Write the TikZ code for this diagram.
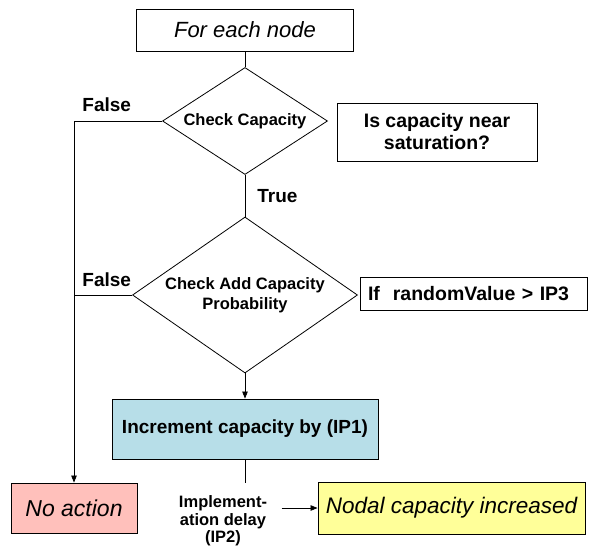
\documentclass[tikz,border=0pt]{standalone}
\usepackage{fontspec}
\setmainfont{Liberation Sans}
\usetikzlibrary{shapes.geometric,arrows.meta}
\definecolor{tealfill}{HTML}{B7DEE8}
\definecolor{pinkfill}{HTML}{FFC0BB}
\definecolor{yellowfill}{HTML}{FFFF99}
\begin{document}
\begin{tikzpicture}[x=1pt,y=-1pt, line width=0.8pt,
  box/.style={draw, line width=0.9pt, inner sep=0pt, align=center},
  dec/.style={draw, diamond, inner sep=0pt, align=center, font=\fontsize{16.5}{20}\selectfont\bfseries},
  lbl/.style={font=\fontsize{19}{22}\selectfont\bfseries, inner sep=0pt},
  arr/.style={-{Triangle[length=7pt,width=5.5pt]}},
]
\useasboundingbox (0,0) rectangle (590,547);

\node[box, minimum width=217pt, minimum height=42pt, font=\fontsize{22}{26}\selectfont\itshape] (start) at (245,30) {For each node};
\node[dec, shape aspect=1.54, minimum width=165pt, minimum height=107pt] (d1) at (245,121) {Check Capacity};
\node[box, minimum width=200pt, minimum height=58pt, font=\fontsize{19.5}{22}\selectfont\bfseries] (sat) at (437,132) {Is capacity near\\saturation?};
\node[dec, shape aspect=1.44, minimum width=225pt, minimum height=156pt] (d2) at (245,295) {Check Add Capacity\\Probability};
\node[box, minimum height=33pt, text width=211pt, inner xsep=8pt, align=left, font=\fontsize{19.5}{22}\selectfont\bfseries] (rnd) at (473.5,293.5) {If\ \ randomValue > IP3};
\node[box, fill=tealfill, minimum width=266pt, minimum height=60pt, font=\fontsize{19}{22}\selectfont\bfseries] (inc) at (245,429) {Increment capacity by (IP1)};
\node[box, fill=pinkfill, minimum width=126pt, minimum height=50pt, font=\fontsize{23}{26}\selectfont\itshape] (noact) at (74,508) {No action};
\node[box, fill=yellowfill, minimum width=267pt, minimum height=52pt, font=\fontsize{22.5}{26}\selectfont\itshape] (nodal) at (451.5,508) {Nodal capacity increased};
\node[font=\fontsize{16.5}{17.5}\selectfont\bfseries, align=center, inner sep=0pt] (delay) at (223,521) {Implement-\\ation delay\\(IP2)};

\coordinate (tap) at (245,483);
\coordinate (dstart) at (281.5,508);

\draw (start.south) -- (d1.north);
\draw (d1.south) -- (d2.north);
\draw[arr] (d1.west) -| (noact.north);
\draw (d2.west) -- (d2.west -| noact.north);
\draw[arr] (d2.south) -- (inc.north);
\draw (inc.south) -- (tap);
\draw[arr] (dstart) -- (nodal.west);

\node[lbl, anchor=west] (f1) at (82,105) {False};
\node[lbl, anchor=west] (f2) at (82,280) {False};
\node[lbl, anchor=west] (tr) at (257,196) {True};
\end{tikzpicture}
\end{document}
